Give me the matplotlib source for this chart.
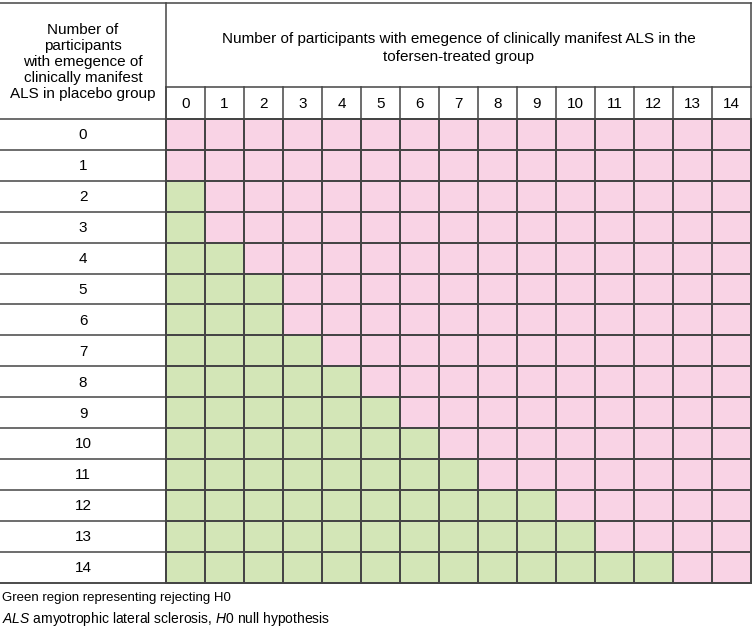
import numpy as np
import matplotlib
matplotlib.use("Agg")
import matplotlib.pyplot as plt
from matplotlib.colors import ListedColormap

plt.rcParams['font.family'] = ['Liberation Sans', 'DejaVu Sans']
plt.rcParams['mathtext.fontset'] = 'custom'
plt.rcParams['mathtext.rm'] = 'Liberation Sans'
plt.rcParams['mathtext.it'] = 'Liberation Sans:italic'

# data
placebo_counts = list(range(15))
tofersen_counts = list(range(15))
# number of green (reject H0) cells per placebo row, counted from tofersen=0
green_counts = [0, 0, 1, 1, 2, 3, 3, 4, 5, 6, 7, 8, 10, 11, 13]
row_header = "Number of\nparticipants\nwith emegence of\nclinically manifest\nALS in placebo group"
col_header = "Number of participants with emegence of clinically manifest ALS in the\ntofersen-treated group"
note1 = "Green region representing rejecting H0"
note2 = r"$\it{ALS}$ amyotrophic lateral sclerosis, $\it{H0}$ null hypothesis"

pink = "#f9d3e5"
green = "#d3e6b7"
line = "#454545"
lw = 1.1

# layout in pixels
W, H = 752, 630
left_w = 166
cw = 39.0
top = 3
head_b = 87
num_b = 119
rh = 30.9

fig = plt.figure(figsize=(W / 100, H / 100), dpi=100)
ax = fig.add_axes([0, 0, 1, 1])
ax.set_xlim(0, W)
ax.set_ylim(H, 0)
ax.axis('off')

n = len(tofersen_counts)
m = len(placebo_counts)
grid = np.array([[1 if j < green_counts[i] else 0 for j in range(n)] for i in range(m)])
xe = left_w + cw * np.arange(n + 1)
ye = num_b + rh * np.arange(m + 1)
ax.pcolormesh(xe, ye, grid, cmap=ListedColormap([pink, green]), vmin=0, vmax=1,
              edgecolors=line, linewidth=lw)

right = xe[-1]
bottom = ye[-1]
# borders
ax.plot([0, right], [top, top], color=line, lw=lw)
ax.plot([0, right], [bottom, bottom], color=line, lw=lw)
ax.plot([right, right], [top, bottom], color=line, lw=lw)
ax.plot([left_w, left_w], [top, bottom], color=line, lw=lw)
ax.plot([left_w, right], [head_b, head_b], color=line, lw=lw)
ax.plot([0, right], [num_b, num_b], color=line, lw=lw)
for j in range(n):
    ax.plot([xe[j], xe[j]], [head_b, num_b], color=line, lw=lw)
    ax.text((xe[j] + xe[j + 1]) / 2, (head_b + num_b) / 2 + 1, str(tofersen_counts[j]),
            ha='center', va='center', fontsize=11)
for i in range(m):
    ax.plot([0, left_w], [ye[i + 1], ye[i + 1]], color=line, lw=lw)
    ax.text(left_w / 2, (ye[i] + ye[i + 1]) / 2 + 1, str(placebo_counts[i]),
            ha='center', va='center', fontsize=11)

ax.text(left_w / 2, 62, row_header, ha='center', va='center',
        fontsize=11, linespacing=1.2)
ax.text((left_w + right) / 2, 48, col_header, ha='center', va='center',
        fontsize=11, linespacing=1.3)

ax.text(2, 598, note1, ha='left', va='center', fontsize=9.5)
ax.text(2, 619, note2, ha='left', va='center', fontsize=10)

fig.savefig("out.png", dpi=100)
